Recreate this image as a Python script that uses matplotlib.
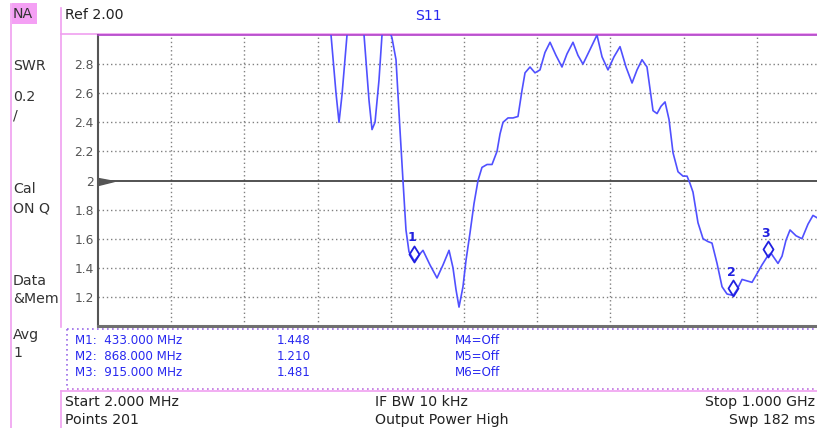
import matplotlib
matplotlib.use("Agg")
import matplotlib.pyplot as plt
from matplotlib.path import Path
from matplotlib.patches import Polygon

# trace (MHz, SWR); values above 3 are off the top of the screen
freq = [2, 150, 300, 315, 319.7, 326.5, 330.6, 334.7, 341.5, 345.6, 359, 364.7,
        371.5, 375.6, 379.7, 385.1, 389.2, 394.6, 401.5, 402.8, 408.3, 413.7,
        417.8, 421.9, 426.0, 433.0, 435.6, 440.0, 445.1, 454.6, 464.2, 472.4,
        480.6, 486.0, 490.1, 494.2, 499.6, 503.7, 509.2, 514.6, 520.1, 525.5,
        532.4, 539.2, 546.0, 550.1, 554.2, 561.0, 567.8, 574.6, 580.1, 584.2,
        591.0, 597.8, 604.6, 611.4, 618.3, 626.4, 634.6, 641.4, 649.6, 656.4,
        663.2, 672.8, 682.3, 689.2, 697.3, 705.5, 713.7, 721.9, 730.1, 736.9,
        743.7, 750.5, 754.6, 758.7, 764.2, 769.6, 775.1, 780.5, 786.0, 792.8,
        799.6, 805.1, 809.1, 813.2, 820.0, 826.9, 833.7, 839.1, 846.0, 852.8,
        859.6, 868.0, 873.3, 880.1, 886.9, 893.7, 900.5, 907.3, 915.0, 919.6,
        925.0, 929.1, 934.6, 940.0, 945.5, 953.7, 961.8, 970.0, 976.8, 983.7,
        993.2, 1000]
swr = [3.6, 3.8, 3.5, 3.5, 3.0, 2.60, 2.40, 2.59, 3.0, 3.3, 3.2, 3.0,
       2.55, 2.35, 2.40, 2.69, 3.0, 3.2, 3.0, 2.98, 2.83, 2.35,
       2.0, 1.66, 1.51, 1.448, 1.46, 1.49, 1.52, 1.42, 1.33, 1.42,
       1.52, 1.40, 1.25, 1.13, 1.27, 1.45, 1.64, 1.84, 2.0, 2.09,
       2.11, 2.11, 2.2, 2.32, 2.40, 2.43, 2.43, 2.44, 2.62, 2.74,
       2.78, 2.74, 2.76, 2.88, 2.95, 2.86, 2.78, 2.87, 2.95, 2.86,
       2.80, 2.90, 3.0, 2.85, 2.76, 2.85, 2.92, 2.78, 2.67, 2.76,
       2.83, 2.78, 2.63, 2.48, 2.46, 2.51, 2.54, 2.42, 2.19, 2.06,
       2.03, 2.03, 1.98, 1.92, 1.71, 1.60, 1.58, 1.57, 1.43, 1.27,
       1.22, 1.21, 1.25, 1.32, 1.31, 1.30, 1.36, 1.42, 1.481, 1.50,
       1.46, 1.43, 1.48, 1.59, 1.66, 1.62, 1.60, 1.70, 1.76, 1.74,
       1.78, 1.80]

marker_ids = ["1", "2", "3"]
marker_freq = [433.0, 868.0, 915.0]
marker_swr = [1.448, 1.210, 1.481]

marker_rows = [("M1:  433.000 MHz", "1.448", "M4=Off"),
               ("M2:  868.000 MHz", "1.210", "M5=Off"),
               ("M3:  915.000 MHz", "1.481", "M6=Off")]

left_labels = [("NA", 14), ("SWR", 66), ("0.2", 97), ("/", 115), ("Cal", 189),
               ("ON Q", 208), ("Data", 281), ("&Mem", 299), ("Avg", 335), ("1", 353)]

y_ticks = [1.2, 1.4, 1.6, 1.8, 2.0, 2.2, 2.4, 2.6, 2.8]
y_tick_labels = ["1.2", "1.4", "1.6", "1.8", "2", "2.2", "2.4", "2.6", "2.8"]

f_start, f_stop = 2.0, 1000.0
ref_level, per_div = 2.0, 0.2

W, H = 817, 428
TRACE = "#5050ff"
TEXT_BLUE = "#2828f0"
PINK = "#f0a0f0"

fig = plt.figure(figsize=(W / 100, H / 100), dpi=100)
fig.patch.set_facecolor("white")

# background canvas in screen pixels (y down)
bg = fig.add_axes([0, 0, 1, 1])
bg.set_xlim(0, W)
bg.set_ylim(H, 0)
bg.axis("off")

# left status column
bg.plot([11, 11], [4, H], color=PINK, lw=1.2)
bg.plot([61, 61], [8, 327], color=PINK, lw=1.2)
bg.plot([61, 61], [391, H], color=PINK, lw=1.2)
bg.add_patch(Polygon([[12, 3], [37, 3], [37, 24], [12, 24]], closed=True,
                     facecolor="#f4a0f4", edgecolor="none"))
for txt, yy in left_labels:
    bg.text(13, yy, txt, fontsize=10.2, color="#333333", va="center", ha="left")

# header
bg.plot([61, W], [34, 34], color=PINK, lw=1.2)
bg.text(65, 15, "Ref 2.00", fontsize=10.2, color="#222222", va="center")
bg.text(428, 16, "S11", fontsize=10.2, color=TEXT_BLUE, va="center", ha="center")

# marker table box
bg.plot([67, W], [328.5, 328.5], color="#9a6ae8", lw=1.2, ls=(0, (1, 2)))
bg.plot([67, 67], [328.5, 389], color="#9a6ae8", lw=1.2, ls=(0, (1, 2)))
bg.plot([67, W], [389, 389], color="#c070e0", lw=1.2, ls=(0, (1, 2)))
row_y = [340, 356, 372]
for (m, val, off), yy in zip(marker_rows, row_y):
    bg.text(75, yy, m, fontsize=8.6, color=TEXT_BLUE, va="center")
    bg.text(277, yy, val, fontsize=8.6, color=TEXT_BLUE, va="center")
    bg.text(455, yy, off, fontsize=8.6, color=TEXT_BLUE, va="center")

# footer
bg.plot([61, W], [391, 391], color=PINK, lw=1.2)
bg.text(65, 402, "Start 2.000 MHz", fontsize=10.2, color="#222222", va="center")
bg.text(65, 420, "Points 201", fontsize=10.2, color="#222222", va="center")
bg.text(375, 402, "IF BW 10 kHz", fontsize=10.2, color="#222222", va="center")
bg.text(375, 420, "Output Power High", fontsize=10.2, color="#222222", va="center")
bg.text(815, 402, "Stop 1.000 GHz", fontsize=10.2, color="#222222", va="center", ha="right")
bg.text(815, 420, "Swp 182 ms", fontsize=10.2, color="#222222", va="center", ha="right")

# graticule: 10 x 10 divisions, right side runs off the screen
x0, y_top, y_bot, plot_w = 98, 35, 326, 732
ax = fig.add_axes([x0 / W, (H - y_bot) / H, plot_w / W, (y_bot - y_top) / H])
ax.set_facecolor("none")
ax.set_xlim(f_start, f_stop)
ax.set_ylim(ref_level - 5 * per_div, ref_level + 5 * per_div)

step = (f_stop - f_start) / 10
for i in range(1, 10):
    ax.axvline(f_start + i * step, color="#808080", lw=1.0, ls=(0, (1, 2)), zorder=1)
for yv in y_ticks:
    if abs(yv - ref_level) > 1e-9:
        ax.axhline(yv, color="#808080", lw=1.0, ls=(0, (1, 2)), zorder=1)
ax.axhline(ref_level, color="#444444", lw=1.3, zorder=2)

ax.set_xticks([])
ax.set_yticks(y_ticks)
ax.set_yticklabels(y_tick_labels)
ax.tick_params(axis="y", length=0, pad=3, labelsize=8.8, labelcolor="#555555")

ax.spines["left"].set_color("#555555")
ax.spines["left"].set_linewidth(1.5)
ax.spines["bottom"].set_color("#707070")
ax.spines["bottom"].set_linewidth(2.2)
ax.spines["top"].set_color("#b040c8")
ax.spines["top"].set_linewidth(1.2)
ax.spines["right"].set_visible(False)

# reference level wedge
wedge = Path([(0, 3), (16, 0), (0, -4), (0, 3)],
             [Path.MOVETO, Path.LINETO, Path.LINETO, Path.CLOSEPOLY])
ax.plot([f_start], [ref_level], marker=wedge, ms=23, color="#555555",
        linestyle="none", clip_on=False, zorder=5)

ax.plot(freq, swr, color=TRACE, lw=1.2, zorder=4)

# marker diamonds, bottom vertex on the trace
diamond = Path([(0, -1), (5, 7), (0, 15), (-5, 7), (0, -1)],
               [Path.MOVETO, Path.LINETO, Path.LINETO, Path.LINETO, Path.CLOSEPOLY])
ax.plot(marker_freq, marker_swr, linestyle="none", marker=diamond, ms=21.6,
        mfc="none", mec="#2020e0", mew=1.3, zorder=6)
for mid, mf, ms_ in zip(marker_ids, marker_freq, marker_swr):
    ax.annotate(mid, (mf, ms_), xytext=(-2, 23), textcoords="offset pixels",
                ha="center", va="center", fontsize=9, fontweight="bold",
                color="#2020e0", zorder=7)

fig.savefig("out.png", dpi=100)
